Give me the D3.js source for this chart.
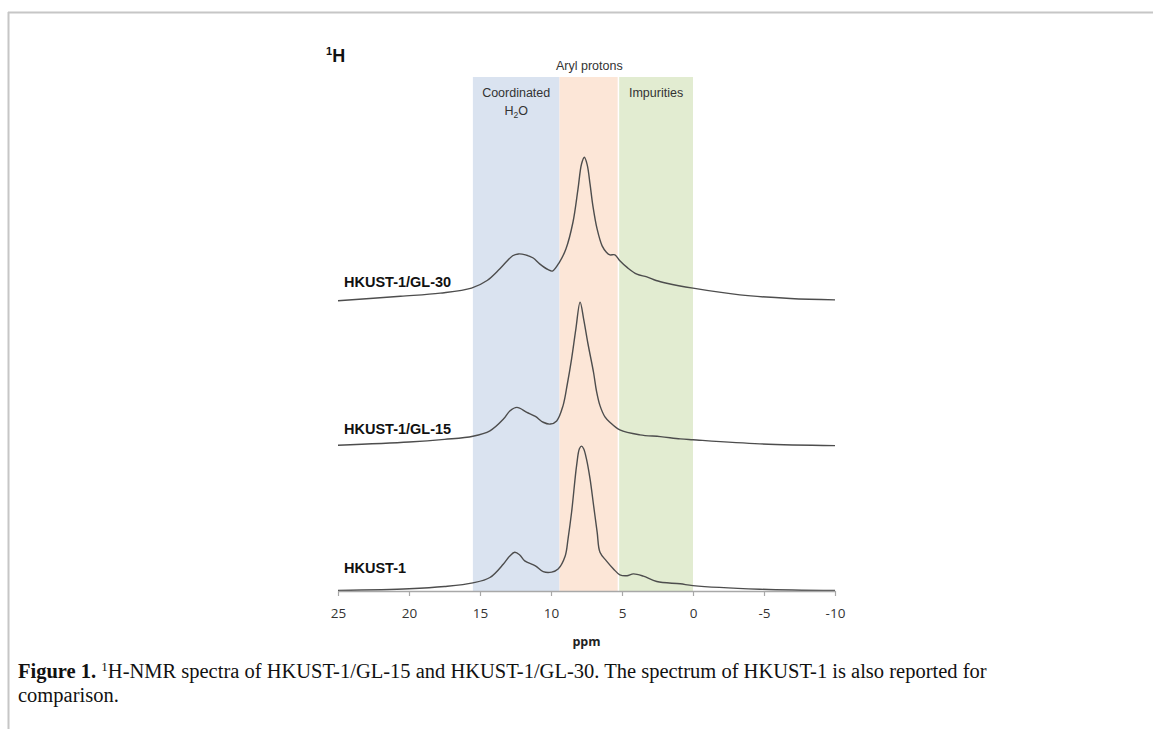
<!DOCTYPE html>
<html>
<head>
<meta charset="utf-8">
<script src="https://cdn.jsdelivr.net/npm/d3@7"></script>
<style>
  html, body { margin: 0; padding: 0; background: #fff; }
  svg { display: block; }
</style>
</head>
<body>
<div id="chart"></div>
<script>
// 1H-NMR spectra, stacked (intensity in a.u., offset already included)
var seriesNames = ["HKUST-1", "HKUST-1/GL-15", "HKUST-1/GL-30"];

var ppmHKUST = [25, 20, 17.5, 15.5, 14.3, 13.35, 12.9, 12.55, 12.2, 11.85, 11.1, 10.55, 9.95, 9.5, 9.0, 8.8, 8.55, 8.2, 8.0, 7.85, 7.7, 7.5, 7.25, 7.0, 6.75, 6.55, 6.1, 5.6, 5.15, 4.65, 4.2, 3.5, 2.55, 0.9, 0, -4.7, -10];
var intHKUST = [0.1, 0.5, 1.0, 1.8, 3.0, 6.0, 7.8, 8.6, 8.0, 6.7, 5.6, 4.3, 4.2, 4.9, 7.8, 11.6, 17.5, 27.8, 31.6, 32.2, 31.6, 29.3, 24.9, 19.0, 13.1, 8.6, 6.7, 4.9, 3.6, 3.4, 3.8, 3.3, 2.1, 1.6, 1.2, 0.4, 0.1];

var ppmGL15 = [25, 20, 17.5, 15.5, 14.3, 13.35, 12.9, 12.4, 11.7, 11.1, 10.55, 10.05, 9.6, 9.15, 8.85, 8.55, 8.25, 7.95, 7.7, 7.4, 7.0, 6.8, 6.55, 6.2, 5.85, 5.15, 3.75, 2.3, 0.9, 0, -4.7, -10];
var intGL15 = [32.4, 33.1, 33.7, 34.4, 35.6, 38.2, 40.0, 40.8, 39.7, 38.8, 37.5, 37.1, 37.8, 41.2, 46.0, 51.6, 58.2, 64.2, 60.4, 55.0, 48.5, 44.5, 41.2, 38.7, 37.5, 35.8, 34.7, 34.3, 33.8, 33.6, 32.7, 32.3];

var ppmGL30 = [25, 20.6, 17.8, 15.6, 14.5, 13.6, 12.7, 12.3, 11.8, 11.25, 10.8, 10.2, 9.9, 9.4, 8.95, 8.45, 8.1, 7.85, 7.65, 7.45, 7.25, 7.05, 6.75, 6.4, 6.1, 5.85, 5.5, 5.15, 4.6, 3.95, 3.25, 2.6, 1.85, 0, -3.3, -6.85, -10];
var intGL30 = [64.5, 65.5, 66.2, 67.3, 69.0, 71.6, 74.5, 74.9, 74.7, 74.0, 72.7, 71.4, 71.1, 73.1, 76.0, 82.0, 89.3, 94.9, 96.4, 94.7, 90.4, 85.6, 80.4, 76.7, 75.3, 74.7, 74.7, 73.4, 71.8, 70.4, 69.8, 69.0, 68.4, 67.3, 65.8, 65.0, 64.7];

// shaded chemical-shift regions (ppm)
var regionNames = ["Coordinated", "Aryl protons", "Impurities"];
var regionFrom = [15.5, 9.4, 5.2];
var regionTo = [9.4, 5.2, 0];
var regionColors = ["#dae3f0", "#fce6d7", "#e2ecd1"];

var tickValues = [25, 20, 15, 10, 5, 0, -5, -10];

var width = 1153, height = 729;

var svg = d3.select("#chart").append("svg")
    .attr("width", width)
    .attr("height", height);

// page frame
svg.append("line").attr("x1", 8).attr("x2", width).attr("y1", 12.5).attr("y2", 12.5)
    .attr("stroke", "#c6c6c6").attr("stroke-width", 2);
svg.append("line").attr("x1", 8.5).attr("x2", 8.5).attr("y1", 12).attr("y2", height)
    .attr("stroke", "#c6c6c6").attr("stroke-width", 2);

var x = d3.scaleLinear().domain([25, -10]).range([338, 835]);
var y = d3.scaleLinear().domain([0, 100]).range([591, 141]);

// regions
var regions = regionFrom.map(function(d, i){
    return {from: d, to: regionTo[i], color: regionColors[i], name: regionNames[i]};
});
svg.selectAll("rect.region")
    .data(regions)
    .enter().append("rect")
    .attr("class", "region")
    .attr("x", function(d){ return x(d.from); })
    .attr("y", 77)
    .attr("width", function(d, i){ return x(d.to) - x(d.from) - (i == 1 ? 1.5 : 0); })
    .attr("height", 591 - 77)
    .attr("fill", function(d){ return d.color; });

var labelFont = "'Liberation Sans', Arial, sans-serif";
svg.append("text")
    .attr("x", x((regionFrom[0] + regionTo[0]) / 2)).attr("y", 97)
    .attr("text-anchor", "middle").attr("font-family", labelFont).attr("font-size", 12.5).attr("fill", "#333")
    .text(regionNames[0]);
var h2o = svg.append("text")
    .attr("x", x((regionFrom[0] + regionTo[0]) / 2)).attr("y", 115)
    .attr("text-anchor", "middle").attr("font-family", labelFont).attr("font-size", 12.5).attr("fill", "#333");
h2o.append("tspan").text("H");
h2o.append("tspan").attr("font-size", 8.5).attr("dy", 3).text("2");
h2o.append("tspan").attr("dy", -3).text("O");
svg.append("text")
    .attr("x", x((regionFrom[1] + regionTo[1]) / 2)).attr("y", 70)
    .attr("text-anchor", "middle").attr("font-family", labelFont).attr("font-size", 12.5).attr("fill", "#333")
    .text(regionNames[1]);
svg.append("text")
    .attr("x", x((regionFrom[2] + regionTo[2]) / 2)).attr("y", 97)
    .attr("text-anchor", "middle").attr("font-family", labelFont).attr("font-size", 12.5).attr("fill", "#333")
    .text(regionNames[2]);

// 1H header
var hdr = svg.append("text").attr("x", 326).attr("y", 62)
    .attr("font-family", labelFont).attr("font-weight", "bold").attr("fill", "#111");
hdr.append("tspan").attr("font-size", 11).attr("dy", -7).text("1");
hdr.append("tspan").attr("font-size", 18).attr("dy", 7).text("H");

// spectra
var spectra = [
    {name: seriesNames[0], ppm: ppmHKUST, val: intHKUST, labelY: 573},
    {name: seriesNames[1], ppm: ppmGL15, val: intGL15, labelY: 434},
    {name: seriesNames[2], ppm: ppmGL30, val: intGL30, labelY: 287}
];

var line = d3.line()
    .x(function(d){ return x(d[0]); })
    .y(function(d){ return y(d[1]); })
    .curve(d3.curveCatmullRom.alpha(0.5));

svg.selectAll("path.spec")
    .data(spectra)
    .enter().append("path")
    .attr("class", "spec")
    .attr("d", function(s){ return line(s.ppm.map(function(p, i){ return [p, s.val[i]]; })); })
    .attr("fill", "none")
    .attr("stroke", "#4d4d4d")
    .attr("stroke-width", 1.4);

svg.selectAll("text.slabel")
    .data(spectra)
    .enter().append("text")
    .attr("class", "slabel")
    .attr("x", 344)
    .attr("y", function(s){ return s.labelY; })
    .attr("font-family", labelFont)
    .attr("font-weight", "bold")
    .attr("font-size", 14.5)
    .attr("fill", "#111")
    .text(function(s){ return s.name; });

// x axis
var axis = svg.append("g")
    .attr("transform", "translate(0,591)")
    .call(d3.axisBottom(x).tickValues(tickValues).tickSize(5).tickSizeOuter(0).tickPadding(12)
        .tickFormat(function(d){ return d; }));
axis.select(".domain").attr("stroke", "#a8a8a8").attr("stroke-width", 1.5);
axis.selectAll(".tick line").attr("stroke", "#a8a8a8").attr("stroke-width", 1.2);
axis.selectAll(".tick text")
    .attr("font-family", "'Open Sans', sans-serif")
    .attr("font-size", 13.5)
    .attr("fill", "#333");

svg.append("text")
    .attr("x", (x(25) + x(-10)) / 2).attr("y", 646)
    .attr("text-anchor", "middle")
    .attr("font-family", "'Open Sans', sans-serif").attr("font-weight", "bold").attr("font-size", 12.5)
    .attr("fill", "#222")
    .text("ppm");

// caption
var capFont = "'Liberation Serif', 'Times New Roman', serif";
var cap = svg.append("text").attr("x", 18).attr("y", 678)
    .attr("font-family", capFont).attr("font-size", 20.5).attr("fill", "#111");
cap.append("tspan").attr("font-weight", "bold").text("Figure 1. ");
cap.append("tspan").attr("font-size", 13).attr("dy", -7).text("1");
cap.append("tspan").attr("dy", 7).text("H-NMR spectra of HKUST-1/GL-15 and HKUST-1/GL-30. The spectrum of HKUST-1 is also reported for");
svg.append("text").attr("x", 18).attr("y", 702)
    .attr("font-family", capFont).attr("font-size", 20.5).attr("fill", "#111")
    .text("comparison.");
</script>
</body>
</html>
